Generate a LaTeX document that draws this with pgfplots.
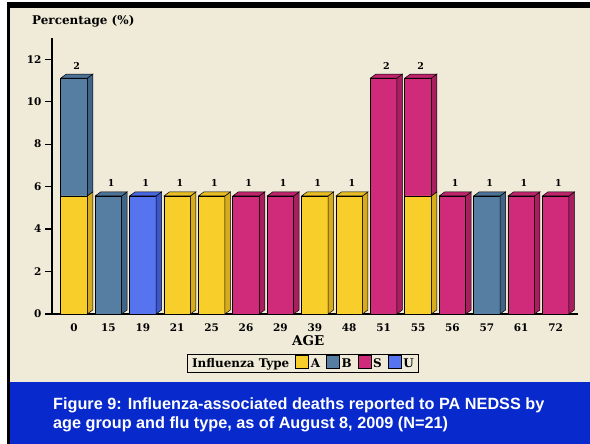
\documentclass[border=0pt]{standalone}
\usepackage{pgfplots}
\usepackage{pgfplotstable}
\pgfplotsset{compat=1.18}
\usepackage{fontspec}
\setmainfont{DejaVu Serif}
\newfontfamily\capfont{Liberation Sans}
\definecolor{parch}{RGB}{240,235,216}
\definecolor{capblue}{RGB}{8,42,204}
\definecolor{Afront}{RGB}{248,206,42}
\definecolor{Aside}{RGB}{214,172,30}
\definecolor{Atop}{RGB}{232,190,36}
\definecolor{Bfront}{RGB}{86,126,162}
\definecolor{Bside}{RGB}{64,100,136}
\definecolor{Btop}{RGB}{76,114,150}
\definecolor{Sfront}{RGB}{208,42,122}
\definecolor{Sside}{RGB}{168,30,94}
\definecolor{Stop}{RGB}{190,36,108}
\definecolor{Ufront}{RGB}{86,116,240}
\definecolor{Uside}{RGB}{60,88,200}
\definecolor{Utop}{RGB}{72,102,222}
\pgfplotstableread{
x A B S U
0 5.56 5.56 0 0
1 0 5.56 0 0
2 0 0 0 5.56
3 5.56 0 0 0
4 5.56 0 0 0
5 0 0 5.56 0
6 0 0 5.56 0
7 5.56 0 0 0
8 5.56 0 0 0
9 0 0 11.11 0
10 5.56 0 5.56 0
11 0 0 5.56 0
12 0 5.56 0 0
13 0 0 5.56 0
14 0 0 5.56 0
}\datatable
\begin{document}
\begin{tikzpicture}
\fill[white] (0bp,0bp) rectangle (590bp,444bp);
\fill[black] (7bp,0bp) rectangle (590bp,442bp);
\fill[parch] (10bp,62bp) rectangle (590bp,436bp);
\fill[capblue] (10bp,0bp) rectangle (590bp,62bp);
\node[anchor=base west, inner sep=0pt, font=\capfont\bfseries\fontsize{16.3}{18}\selectfont, text=white] at (53bp,35bp) {Figure 9: Influenza-associated deaths reported to PA NEDSS by};
\node[anchor=base west, inner sep=0pt, font=\capfont\bfseries\fontsize{16.3}{18}\selectfont, text=white] at (53bp,16bp) {age group and flu type, as of August 8, 2009 (N=21)};
\node[anchor=base west, inner sep=0pt, font=\bfseries\fontsize{12}{14}\selectfont] at (32bp,419bp) {Percentage (\%)};
\begin{axis}[
  at={(52bp,130bp)}, anchor=south west, scale only axis,
  width=526bp, height=276bp,
  xmin=-0.64, xmax=14.65, ymin=0, ymax=13,
  clip=false,
  axis x line*=bottom, axis y line*=left,
  axis line style={black, line width=1.3bp},
  ybar stacked, bar width=26.5bp,
  ytick={0,2,...,12},
  xtick={0,...,14},
  xticklabels={0,15,19,21,25,26,29,39,48,51,55,56,57,61,72},
  tick align=outside,
  major tick length=7bp,
  x tick style={draw=none},
  y tick style={black, line width=1.2bp},
  /pgf/number format/assume math mode=true,
  tick label style={font=\bfseries\fontsize{10.5}{12}\selectfont},
  xticklabel style={yshift=1bp},
  yticklabel style={xshift=0bp},
  xlabel={AGE},
  xlabel style={font=\bfseries\fontsize{13.5}{15}\selectfont, at={(0.487,-0.095)}, anchor=center},
  legend columns=5,
  legend style={at={(0.477,-0.178)}, anchor=center, draw=black, line width=0.7bp, fill=none,
    font=\bfseries\fontsize{12}{14}\selectfont, inner xsep=3bp, inner ysep=1.5bp,
    /tikz/every even column/.append style={column sep=4bp}},
  legend image code/.code={\draw[#1, line width=0.5bp] (0bp,-4.5bp) rectangle (13bp,8bp);},
]
\addlegendimage{empty legend}\addlegendentry{Influenza Type}
\addplot[fill=Afront, draw=black, line width=0.6bp] table[x=x,y=A]{\datatable}; \addlegendentry{A}
\addplot[fill=Bfront, draw=black, line width=0.6bp] table[x=x,y=B]{\datatable}; \addlegendentry{B}
\addplot[fill=Sfront, draw=black, line width=0.6bp] table[x=x,y=S]{\datatable}; \addlegendentry{S}
\addplot[fill=Ufront, draw=black, line width=0.6bp] table[x=x,y=U]{\datatable}; \addlegendentry{U}
\end{axis}
\begin{axis}[
  at={(52bp,130bp)}, anchor=south west, scale only axis,
  width=526bp, height=276bp,
  xmin=-0.64, xmax=14.65, ymin=0, ymax=13,
  hide axis, clip=false,
]
\foreach \i/\b/\t/\c in {0/0/5.56/A, 0/5.56/11.11/B, 1/0/5.56/B, 2/0/5.56/U, 3/0/5.56/A, 4/0/5.56/A, 5/0/5.56/S, 6/0/5.56/S, 7/0/5.56/A, 8/0/5.56/A, 9/0/11.11/S, 10/0/5.56/A, 10/5.56/11.11/S, 11/0/5.56/S, 12/0/5.56/B, 13/0/5.56/S, 14/0/5.56/S}{
  \pgfmathsetmacro\xa{\i+0.385}
  \pgfmathsetmacro\xb{\i+0.545}
  \pgfmathsetmacro\yb{\b+0.19}
  \pgfmathsetmacro\yt{\t+0.19}
  \edef\temp{\noexpand\addplot[fill=\c side, draw=black, line width=0.5bp] coordinates {(\xa,\b) (\xb,\yb) (\xb,\yt) (\xa,\t)} -- cycle;}
  \temp
}
\foreach \i/\t/\c in {0/11.11/B, 1/5.56/B, 2/5.56/U, 3/5.56/A, 4/5.56/A, 5/5.56/S, 6/5.56/S, 7/5.56/A, 8/5.56/A, 9/11.11/S, 10/11.11/S, 11/5.56/S, 12/5.56/B, 13/5.56/S, 14/5.56/S}{
  \pgfmathsetmacro\xa{\i+0.385}
  \pgfmathsetmacro\xb{\i+0.545}
  \pgfmathsetmacro\xc{\i-0.385}
  \pgfmathsetmacro\xd{\i-0.225}
  \pgfmathsetmacro\yt{\t+0.19}
  \edef\temp{\noexpand\addplot[fill=\c top, draw=black, line width=0.5bp] coordinates {(\xc,\t) (\xd,\yt) (\xb,\yt) (\xa,\t)} -- cycle;}
  \temp
}
\addplot[draw=none, mark=none, nodes near coords, point meta=explicit symbolic,
  every node near coord/.style={anchor=center, yshift=12.5bp, font=\bfseries\fontsize{9.5}{10}\selectfont, text=black}]
  coordinates {(0.08,11.11)[2] (1.08,5.56)[1] (2.08,5.56)[1] (3.08,5.56)[1] (4.08,5.56)[1] (5.08,5.56)[1] (6.08,5.56)[1] (7.08,5.56)[1] (8.08,5.56)[1] (9.08,11.11)[2] (10.08,11.11)[2] (11.08,5.56)[1] (12.08,5.56)[1] (13.08,5.56)[1] (14.08,5.56)[1]};
\end{axis}
\end{tikzpicture}
\end{document}
